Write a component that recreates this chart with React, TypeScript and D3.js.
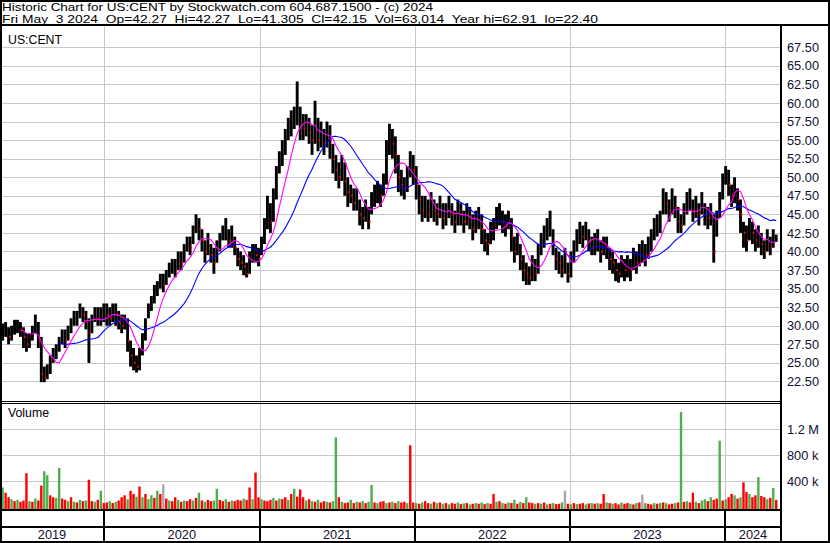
import React from 'react';
import * as d3 from 'd3';

// Weekly bars (week ending Friday), first week ends 2019-05-10, last 2024-05-03
const closes = [
29,29.5,28.5,29,30, 30,29.5,28.5,27.5,28, 29,30.5,28,23.5,23, 23.5,25,26,26.5,27.5,
28.5,28,29,30,31, 31,32,31.5,30.5,29, 30.5,31.5,31,31.5,32, 31.5,31,32,31.5,30.5,
30,30.5,28,26,25, 24.5,25.5,27.5,30,32, 33,34.5,35,36,35.5, 36.5,37.5,38,37.5,39,
38.5,40,41,40.5,42, 44,43,41.5,40,41, 39.5,38.5,40,41,42.5, 43,41.5,42,40.5,39,
38.5,38,37,38.5,40, 39.5,39,41,43,45, 44,47,50,52,53, 55,56.5,57,58,60,
57,56.5,57,56,55, 57.5,55,56,54.5,56, 55,52.5,51,50,51.5, 49.5,48,47.5,46.5,47,
45,44.5,45.5,44,47, 47.5,48,47.5,49,53, 55,54.5,53,50,49, 48.5,50,52,51,49,
47,45.5,46,45,46.5, 45.5,45,46,44.5,45, 46,45,44,45.5,45, 44,45,44.5,43,44,
44.5,43,41.5,41,42.5, 43,44.5,45,44,43.5, 44.5,42,40,41,39, 37.5,37,36.5,38,37,
39.5,41,42,43,44, 41,39,38.5,37.5,39, 37,38.5,40,41.5,42.5, 42,43,41.5,40.5,41,
41.5,40,41,40.5,39, 38.5,37.5,37,38,37.5, 38,37.5,39,38.5,39.5, 40,39.5,40.5,41.5,43,
43.5,44,47,46.5,45.5, 47,46,44,43.5,45, 46.5,47,45.5,46,45, 46.5,45,44.5,45,40,
44,46.5,49,50.5,49, 47.5,48.5,47,45,42.5, 41.5,43,42.5,41.5,42, 41,40,41.5,40.5,42,42.15];

const highs = [
30.3,30.5,29.8,30,30.8, 30.8,30.5,29.8,29,29, 30,31.5,30.5,28.5,24.5, 24.8,26,27,27.5,28.5,
29.5,29.5,30,31,32, 32,33,32.5,32,31, 31.5,32.5,32.5,32.5,33, 33,32.5,33,33,32,
31.5,31.5,31,28,27, 26,27,29,31,33, 34,35.5,36,37,37, 37.5,38.5,39,39,40,
40,41,42,42,43.5, 45,44.5,43,41.5,42.5, 41,40.5,41.5,42.5,43.5, 44.5,43,43.5,42,40.5,
40,39.5,38.5,40,41, 41,40.5,42,44.5,47.5, 46.5,48.5,51.5,53.5,55, 56.5,58,59,59.5,62.9,
59.5,58.5,58.5,58,57, 60.3,58,57.5,56.5,57.5, 57,54.5,53,52,53, 52,50,49,48.5,48.5,
47,46,47,46,48, 49,49.5,49,50.5,55, 57.2,56.5,55.5,53,51, 50,51.5,53.5,53,51.5,
49,47.5,47.5,47,48, 47,46.5,47.5,46.5,46.5, 47.5,46.5,45.5,47,46.5, 45.5,46.5,46,45,45.5,
46,45,43,42.5,44, 44.5,46,46.5,45.5,45, 45.5,44.5,42,42.5,41, 39.5,38.5,38,39.5,39,
41,42.5,43.5,44.5,45.5, 43,40.5,40,39.5,40.5, 38.5,40,41.5,43,44, 43.5,44,43,42,42.5,
43,41.5,42,42,40.5, 40,39,38.5,39.5,39, 39.5,39,40.5,40,41, 41.5,41,42,43,44.5,
45,45.5,48.5,48,47, 48.5,47.5,46,45,46.5, 48,48.5,47,47.5,46.5, 48,46.5,46,46.5,45,
45.5,48,50.5,51.5,51, 49,50,48.5,47,44, 43.5,44.5,44,43,43.5, 42.5,41.5,43,42,43,42.27];

const lows = [
28,28.5,27.5,28,28.8, 29,28.5,27,26.5,27, 28,29,27,22.4,22.4, 22.8,23.5,25,25.5,26.5,
27.5,27,28,29,30, 30,31,30.5,29.5,25, 29,30.5,30,30,30.5, 30,30,30.5,30,29.5,
29,29.5,26.5,24.5,24, 23.7,24,26,28,31, 32,33,34,35,34.5, 35.5,36.5,37,36.5,37.5,
37.5,38.5,40,39.5,41, 42.5,41.5,40,38.5,39.5, 38.5,37,38.5,40,41.5, 41.5,40.5,40.5,39.5,38,
37.5,36.8,36.5,37,38.5, 38.5,38,39.5,41,43, 42.5,44,47,50.5,51.5, 53,55,55.5,56.5,57,
55,55,55.5,54.5,53, 54.5,53.5,54,53,54, 52.5,50.5,49.5,48.5,49.5, 47.5,46,46.5,45.5,45.5,
43.5,43,44,43,45, 46,46.5,46,47.5,49, 53,52.5,50.5,48,47.5, 47,48,50,49,47,
45,44,44.5,44,44.5, 44,43.5,44.5,43,43.5, 44.5,43.5,42.5,43.5,43.5, 42.5,43.5,43,41.5,42.5,
43,41,40,39.5,41, 41.5,43,43.5,42.5,42, 43,40,38.5,39.5,37.5, 36,35.5,35.5,36,36,
37,39.5,40.5,41.5,42, 39.5,37.5,37,36.5,37, 35.8,36.5,38.5,40,41, 40.5,41.5,40,39.5,39.5,
40,38.5,39.5,39,37.5, 37,36,35.8,36.5,36, 36.5,36,37.5,37,38, 38.5,38,39,40,41.5,
42,42.5,45,45,44, 45,44.5,42.5,42.5,43.5, 45,45.5,44,44.5,43.5, 45,43.5,43,43.5,38.5,
42,44.5,47,49,47.5, 46,46.5,45.5,42.5,40.5, 40,41.5,41,40,40.5, 39.5,39,40,39.5,40.5,41.3];

// volume in thousands of shares
const volumes = [
300,220,150,120,90,110,80,100,520,90, 80,130,100,330,550,490,180,150,140,600,
130,110,90,150,80,70,110,90,100,420, 90,80,110,250,60,70,90,60,80,100,
150,180,120,250,200,160,315,150,200,120, 180,140,250,200,350,130,100,90,150,110,
80,100,90,120,100,140,220,100,80,110, 90,100,280,110,90,120,80,100,90,110,
100,130,110,300,120,530,150,120,100,90, 110,140,100,130,120,150,110,200,280,160,
270,150,100,120,90,80,110,70,90,80, 70,90,1070,150,80,60,70,110,60,80,
70,90,60,80,340,70,60,80,90,60, 70,80,60,90,70,80,60,950,70,60,
50,70,90,60,50,80,60,70,50,60, 40,60,50,70,45,55,60,40,50,60,
50,70,45,60,50,200,80,90,60,50, 70,60,110,50,80,60,150,70,60,50,
60,50,70,40,50,60,45,50,70,250, 50,40,60,45,50,60,40,55,60,50,
60,50,200,70,60,50,60,40,70,50, 60,50,40,60,70,190,60,50,40,60,
50,60,70,60,40,50,60,70,1460,80, 90,70,220,80,60,100,120,90,150,110,
130,1020,100,120,150,200,180,130,150,380, 230,200,150,180,460,170,150,120,140,294,110];

// G = up (green), R = down (red), N = unchanged (grey)
const volumeDirections =
  "GRRGRGRRRG" + "RGRRGGRRGG" + "RRGRGRGRGR" + "RGRGRRGRGR" + "RRGRRGRGRG" +
  "GRGRNRGRRG" + "RGRRGRGRGR" + "RGGRRGRGRR" + "RGRRGRRGRR" + "RGRGRRGRGR" +
  "RRGRGRGRRG" + "RGGRGRRGRG" + "RGRGGRGRRG" + "RGRGRRGRRG" + "RGRRGRGRGR" +
  "GRRGRGRGRG" + "RGRGRRGRGR" + "GRGRGRGRRG" + "RGRGRGRRGN" + "RGRGRRGRGR" +
  "GRRGRGRRGR" + "RGRGRNGRRG" + "RGRGRRGRGR" + "GRRGRGGRGR" + "RGRGRRGRGR" +
  "RGRRGRRGRGR";

const priceTicks = [22.5, 25, 27.5, 30, 32.5, 35, 37.5, 40, 42.5, 45, 47.5, 50, 52.5, 55, 57.5, 60, 62.5, 65, 67.5];
const volumeTicks = [400, 800, 1200];
const volumeTickLabels = ['400 k', '800 k', '1.2 M'];
const yearLabels = ['2019', '2020', '2021', '2022', '2023', '2024'];
const headerLine1 = 'Historic Chart for US:CENT by Stockwatch.com 604.687.1500 - (c) 2024';
const headerLine2 = 'Fri May  3 2024  Op=42.27  Hi=42.27  Lo=41.305  Cl=42.15  Vol=63,014  Year hi=62.91  lo=22.40';
const symbol = 'US:CENT';
const shortMA = 7;
const longMA = 20;

function sma(values: number[], n: number): ([number, number] | null)[] {
  return values.map((_, i) => {
    if (i < n - 1) return null;
    let s = 0;
    for (let k = i - n + 1; k <= i; k++) s += values[k];
    return [i, s / n] as [number, number];
  });
}

export default function App() {
  const W = 830, H = 543;
  const plotRight = 781;
  const priceTop = 25, priceBottom = 401;
  const volTop = 403, volBottom = 510;

  const firstWeekEnd = new Date(2019, 4, 10);
  const dateOf = (i: number) => new Date(firstWeekEnd.getTime() + (7 * i - 2.5) * 864e5);
  const x = d3.scaleTime().domain([new Date(2020, 0, 1), new Date(2024, 0, 1)]).range([104, 725]);
  const xi = (i: number) => x(dateOf(i));

  const yPrice = d3.scaleLinear().domain([20, 70.5]).range([400, 25]);
  const yVol = d3.scaleLinear().domain([0, 1600]).range([507, volTop]);

  const yearBounds = [2019, 2020, 2021, 2022, 2023, 2024, 2025].map(y => x(new Date(y, 0, 1)));
  const inner = yearBounds.slice(1, 6);

  const lineGen = d3.line<[number, number]>().x(d => xi(d[0])).y(d => yPrice(d[1])).curve(d3.curveLinear);
  const maShort = sma(closes, shortMA).filter(Boolean) as [number, number][];
  const maLong = sma(closes, longMA).filter(Boolean) as [number, number][];

  const volColor = (c: string) => (c === 'G' ? '#4caf4c' : c === 'R' ? '#ff0000' : '#a8a8a8');

  const font = '"Liberation Sans", Arial, Helvetica, sans-serif';

  return (
    <svg width={W} height={H} style={{ position: 'absolute', left: 0, top: 0, background: '#fff' }} fontFamily={font}>
      <defs>
        <clipPath id="pclip"><rect x={2} y={priceTop + 1} width={plotRight - 3} height={priceBottom - priceTop - 2} /></clipPath>
        <clipPath id="vclip"><rect x={2} y={volTop + 1} width={plotRight - 3} height={volBottom - volTop - 2} /></clipPath>
      </defs>
      <rect x={0} y={0} width={W} height={H} fill="#fff" />

      {/* header */}
      <text x={2} y={10.5} fontSize={11.6} fill="#000" textLength={431} lengthAdjust="spacingAndGlyphs" style={{ whiteSpace: 'pre' }}>{headerLine1}</text>
      <text x={2} y={22.5} fontSize={11.6} fill="#000" textLength={596} lengthAdjust="spacingAndGlyphs" style={{ whiteSpace: 'pre' }}>{headerLine2}</text>

      {/* grid */}
      <g shapeRendering="crispEdges">
        {priceTicks.map(t => (
          <line key={t} x1={2} x2={plotRight} y1={Math.round(yPrice(t)) + 0.5} y2={Math.round(yPrice(t)) + 0.5} stroke="#c8c8c8" />
        ))}
        {inner.map((bx, k) => (
          <line key={k} x1={Math.round(bx) + 0.5} x2={Math.round(bx) + 0.5} y1={priceTop} y2={volBottom} stroke="#c8c8c8" />
        ))}
        {volumeTicks.map(t => (
          <line key={t} x1={2} x2={plotRight} y1={Math.round(yVol(t)) + 0.5} y2={Math.round(yVol(t)) + 0.5} stroke="#c8c8c8" />
        ))}
      </g>

      {/* price bars */}
      <g clipPath="url(#pclip)">
        {closes.map((c, i) => (
          <line key={i} x1={xi(i)} x2={xi(i)} y1={yPrice(highs[i])} y2={yPrice(lows[i])} stroke="#000" strokeWidth={2.9} />
        ))}
        {closes.map((c, i) => (i > 0 && c < closes[i - 1] ? (
          <rect key={'r' + i} x={xi(i) + 0.4} y={yPrice(c) - 1} width={1.6} height={2} fill="#ff0000" />
        ) : null))}
        <path d={lineGen(maLong) || ''} fill="none" stroke="#0000ff" strokeWidth={1.1} />
        <path d={lineGen(maShort) || ''} fill="none" stroke="#ff00ff" strokeWidth={1.1} />
      </g>

      {/* volume bars */}
      <g clipPath="url(#vclip)">
        {volumes.map((v, i) => (
          <rect key={i} x={xi(i) - 1.2} y={yVol(v)} width={2.4} height={509 - yVol(v)} fill={volColor(volumeDirections[i])} />
        ))}
      </g>

      {/* panel labels */}
      <text x={8} y={44.3} fontSize={12.3} fill="#000">{symbol}</text>
      <text x={8} y={417} fontSize={12.3} fill="#000">Volume</text>

      {/* borders */}
      <g shapeRendering="crispEdges" stroke="#000">
        <line x1={0} x2={W} y1={25} y2={25} strokeWidth={2} />
        <line x1={0} x2={plotRight} y1={401} y2={401} strokeWidth={1} />
        <line x1={0} x2={plotRight} y1={403.5} y2={403.5} strokeWidth={1} />
        <line x1={0} x2={plotRight} y1={510} y2={510} strokeWidth={2} />
        <line x1={0} x2={plotRight} y1={526.5} y2={526.5} strokeWidth={2} />
        <line x1={plotRight} x2={plotRight} y1={25} y2={H} strokeWidth={2} />
        {inner.map((bx, k) => (
          <line key={k} x1={Math.round(bx)} x2={Math.round(bx)} y1={510} y2={H} strokeWidth={2} />
        ))}
        <rect x={1} y={1} width={W - 2} height={H - 2.3} fill="none" strokeWidth={2} />
      </g>

      {/* axis labels */}
      {priceTicks.map(t => (
        <text key={t} x={787} y={yPrice(t)} dy="0.36em" fontSize={12.8} fill="#101030">{t.toFixed(2)}</text>
      ))}
      {volumeTicks.map((t, k) => (
        <text key={t} x={787} y={yVol(t)} dy="0.36em" fontSize={12.8} fill="#101030">{volumeTickLabels[k]}</text>
      ))}

      {/* year labels */}
      {yearLabels.map((lab, k) => {
        const a = Math.max(0, yearBounds[k]);
        const b = Math.min(plotRight, yearBounds[k + 1]);
        return (
          <text key={lab} x={(a + b) / 2} y={539} textAnchor="middle" fontSize={12.8} fill="#101030">{lab}</text>
        );
      })}
    </svg>
  );
}
